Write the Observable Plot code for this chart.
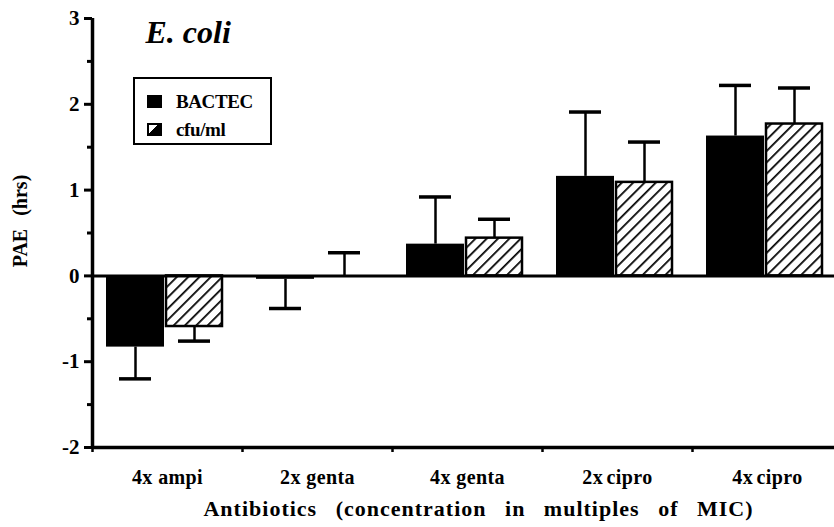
<!DOCTYPE html>
<html><head><meta charset="utf-8">
<script src="https://cdn.jsdelivr.net/npm/d3@7"></script>
<script src="https://cdn.jsdelivr.net/npm/@observablehq/plot@0.6"></script>
<style>
body{margin:0;background:#fff;}
#wrap{position:relative;width:834px;height:527px;font-family:"Liberation Serif","Times New Roman",serif;}
#legend{position:absolute;left:133px;top:77px;width:139px;height:68px;border:2.5px solid #000;box-sizing:border-box;background:#fff;font-family:"Liberation Serif","Times New Roman",serif;}
.li{position:absolute;left:12px;font-weight:bold;font-size:19px;letter-spacing:-0.4px;line-height:19px;white-space:nowrap;}
.sw{display:inline-block;width:15px;height:13px;vertical-align:0px;margin-right:14px;box-sizing:border-box;}
</style></head><body><div id="wrap"></div>
<script>
const groups = ["4x ampi", "2x genta", "4x genta", "2x cipro", "4x cipro"];
const seriesNames = ["BACTEC", "cfu/ml"];
const bactecValues = [-0.83, -0.04, 0.37, 1.16, 1.63];
const bactecErrors = [0.37, 0.34, 0.55, 0.75, 0.59];
const cfuValues = [-0.59, 0.00, 0.44, 1.09, 1.77];
const cfuErrors = [0.17, 0.27, 0.22, 0.47, 0.42];
const yMajorTicks = [-2, -1, 0, 1, 2, 3];
const yMinorTicks = [-1.5, -0.5, 0.5, 1.5, 2.5];
const titleText = "E. coli";
const xTitle = "Antibiotics (concentration in multiples of MIC)";
const yTitle = "PAE (hrs)";

function rows(values, errors, name) {
  return groups.map((g, i) => ({
    group: g, series: name, value: values[i],
    end: values[i] < 0 ? values[i] - errors[i] : values[i] + errors[i]
  }));
}
const bRows = rows(bactecValues, bactecErrors, seriesNames[0]);
const cRows = rows(cfuValues, cfuErrors, seriesNames[1]);

const font = "'Liberation Serif', 'Times New Roman', serif";
const chart = Plot.plot({
  width: 834, height: 527,
  marginLeft: 92, marginRight: 0, marginTop: 18, marginBottom: 80,
  style: {fontFamily: font, background: "#fff", color: "#000"},
  x: {domain: groups, range: [92, 842], padding: 0, axis: null},
  y: {domain: [-2, 3], axis: null},
  marks: [
    Plot.barY(bRows, {x: "group", y: "value", fill: "#000", insetLeft: 14, insetRight: 78}),
    Plot.barY(cRows, {x: "group", y: "value", fill: "url(#hatch)", stroke: "#000", strokeWidth: 2.5, insetLeft: 74, insetRight: 20}),
    Plot.ruleX(bRows, {x: "group", y1: "value", y2: "end", dx: -32, strokeWidth: 2.5}),
    Plot.tickY(bRows, {x: "group", y: "end", dx: -32, insetLeft: 59, insetRight: 59, strokeWidth: 3.5}),
    Plot.ruleX(cRows, {x: "group", y1: "value", y2: "end", dx: 27, strokeWidth: 2.5}),
    Plot.tickY(cRows, {x: "group", y: "end", dx: 27, insetLeft: 59, insetRight: 59, strokeWidth: 3.5}),
    Plot.ruleY([0], {strokeWidth: 3}),
    Plot.ruleY([-2], {strokeWidth: 3.5}),
    Plot.ruleX([groups[0]], {dx: -75, strokeWidth: 3.5}),
    Plot.axisY(yMajorTicks, {tickSize: 8, tickPadding: 5, strokeWidth: 3, fontSize: 21, fontWeight: "bold", fontFamily: font, label: null, tickFormat: d => String(d)}),
    Plot.axisY(yMinorTicks, {tickSize: 5, strokeWidth: 3, tickFormat: () => "", label: null}),
    Plot.axisX({tickSize: 5, strokeWidth: 2.5, dx: -75, tickFormat: () => "", label: null}),
    Plot.axisX({tickSize: 0, tickPadding: 22, fontSize: 20, fontWeight: "bold", fontFamily: font, label: null}),
    Plot.text([xTitle], {frameAnchor: "bottom", textAnchor: "middle", dx: 15, dy: 68, fontSize: 22, fontWeight: "bold", fontFamily: font}),
    Plot.text([yTitle], {frameAnchor: "left", textAnchor: "middle", dx: -72, dy: -12, rotate: -90, fontSize: 20, fontWeight: "bold", fontFamily: font}),
    Plot.text([titleText], {frameAnchor: "top-left", textAnchor: "start", dx: 53, dy: 2, fontSize: 32, fontWeight: "bold", fontStyle: "italic", fontFamily: font})
  ]
});

const ns = "http://www.w3.org/2000/svg";
const defs = document.createElementNS(ns, "defs");
defs.innerHTML = `<pattern id="hatch" patternUnits="userSpaceOnUse" width="8" height="8" patternTransform="rotate(45)">
  <rect width="8" height="8" fill="#fff"/><line x1="0" y1="0" x2="0" y2="8" stroke="#000" stroke-width="3.5"/></pattern>`;
chart.insertBefore(defs, chart.firstChild);

const wrap = document.getElementById("wrap");
wrap.appendChild(chart);
chart.querySelectorAll("text").forEach(t => {
  t.style.fontFamily = font;
  const s = t.textContent;
  if (s === xTitle) { t.style.wordSpacing = "12px"; t.style.letterSpacing = "1px"; }
  if (s === yTitle) t.style.wordSpacing = "8px";
  if (groups.includes(s)) t.style.letterSpacing = "0.4px";
  if (s === "2x cipro" || s === "4x cipro") t.style.wordSpacing = "-2px";
});

const legend = document.createElement("div");
legend.id = "legend";
const items = [
  {name: seriesNames[0], style: "background:#000;"},
  {name: seriesNames[1], style: "border:2px solid #000;background:linear-gradient(135deg,#fff 0 45%,#000 45% 100%);"}
];
items.forEach((it, i) => {
  const d = document.createElement("div");
  d.className = "li";
  d.style.top = (13 + i * 28) + "px";
  const sw = document.createElement("span");
  sw.className = "sw";
  sw.setAttribute("style", it.style);
  d.appendChild(sw);
  d.appendChild(document.createTextNode(it.name));
  legend.appendChild(d);
});
wrap.appendChild(legend);
</script>
</body></html>
